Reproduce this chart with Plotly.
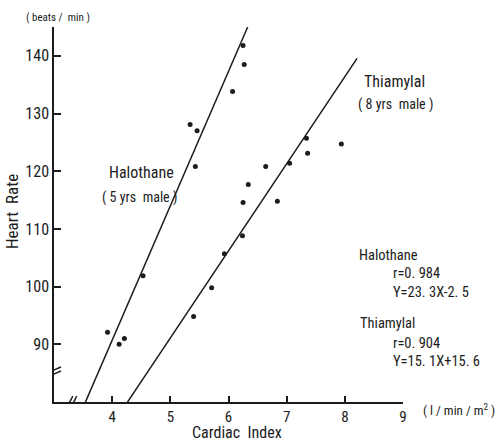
import plotly.graph_objects as go

# Cardiac index (l/min/m^2) vs heart rate (beats/min)
hal_ci = [6.25, 6.27, 6.07, 5.34, 5.46, 5.43, 4.53, 3.92, 4.12, 4.21]
hal_hr = [141.8, 138.5, 133.8, 128.1, 127.0, 120.8, 101.9, 92.1, 90.0, 91.0]

thi_ci = [5.40, 5.71, 5.93, 6.24, 6.25, 6.34, 6.84, 6.64, 7.05, 7.36, 7.34, 7.94]
thi_hr = [94.8, 99.8, 105.7, 108.8, 114.6, 117.7, 114.8, 120.8, 121.4, 123.1, 125.7, 124.7]

# Regression results
hal_r, hal_slope, hal_icpt = 0.984, 23.3, -2.5
thi_r, thi_slope, thi_icpt = 0.904, 15.1, 15.6

# Extent of each fitted line along the cardiac index axis
hal_line_ci = [3.54, 6.33]
thi_line_ci = [4.26, 8.21]

x_ticks = [4, 5, 6, 7, 8, 9]
y_ticks = [90, 100, 110, 120, 130, 140]

FONT = "Roboto Condensed, Arial Narrow, Roboto, sans-serif"
INK = "#1c1c1c"

W, H = 504, 442
ML, MR, MT, MB = 54, 101, 27, 40


def fit(xs, slope, icpt):
    return [slope * x + icpt for x in xs]


def fmt_num(v):
    return f"{v:.1f}".replace(".", ". ")


def eq_text(slope, icpt):
    sign = "+" if icpt >= 0 else "-"
    return f"Y={fmt_num(slope)}X{sign}{fmt_num(abs(icpt))}"


def r_text(r):
    return "r=" + f"{r:.3f}".replace(".", ". ")


fig = go.Figure()

for xs, ys in [(hal_ci, hal_hr), (thi_ci, thi_hr)]:
    fig.add_trace(go.Scatter(x=xs, y=ys, mode="markers",
                             marker=dict(size=5, color=INK), showlegend=False))

for xs, slope, icpt in [(hal_line_ci, hal_slope, hal_icpt),
                        (thi_line_ci, thi_slope, thi_icpt)]:
    fig.add_trace(go.Scatter(x=xs, y=fit(xs, slope, icpt), mode="lines",
                             line=dict(color=INK, width=1.5), showlegend=False))

fig.update_layout(
    width=W, height=H,
    margin=dict(l=ML, r=MR, t=MT, b=MB),
    paper_bgcolor="white", plot_bgcolor="white",
    font=dict(family=FONT, color=INK, size=16),
    xaxis=dict(range=[3, 9], tickvals=x_ticks, ticks="inside", ticklen=6,
               tickwidth=1.5, tickcolor=INK, showline=True, linecolor=INK,
               linewidth=1.5, showgrid=False, zeroline=False,
               tickfont=dict(size=15)),
    yaxis=dict(range=[80, 145], tickvals=y_ticks, ticks="inside", ticklen=7,
               tickwidth=1.5, tickcolor=INK, showline=True, linecolor=INK,
               linewidth=1.5, showgrid=False, zeroline=False,
               tickfont=dict(size=16)),
)

# Axis break marks
for dx in (-4, 0):
    fig.add_shape(type="line", xref="x", yref="y", xsizemode="pixel",
                  ysizemode="pixel", xanchor=3.34, yanchor=80,
                  x0=dx - 3, y0=-6, x1=dx + 3, y1=6,
                  line=dict(color=INK, width=1.5))
for dy in (-2, 2):
    fig.add_shape(type="line", xref="x", yref="y", xsizemode="pixel",
                  ysizemode="pixel", xanchor=3, yanchor=85.2,
                  x0=-7, y0=dy - 3, x1=7, y1=dy + 3,
                  line=dict(color=INK, width=1.5))

# Text placed in page pixels, converted to the plot-area paper frame
PW, PH = W - ML - MR, H - MT - MB
ann = []


def txt(x, y, s, size=15, xanchor="center", **kw):
    ann.append(dict(x=(x - ML) / PW, y=(H - MB - y) / PH, text=s,
                    xref="paper", yref="paper", showarrow=False,
                    xanchor=xanchor, yanchor="middle",
                    font=dict(size=size, family=FONT, color=INK), **kw))


txt(58, 17, "( beats /  min )", size=11)
txt(12, 212, "Heart  Rate", size=17, textangle=-90)
txt(237, 432, "Cardiac  Index", size=16)
txt(421, 410, "( l / min / m<sup>2</sup> )", size=13, xanchor="left")

txt(141, 172, "Halothane", size=16)
txt(139, 197, "( 5 yrs  male )", size=14)
txt(362, 81, "Thiamylal", size=16, xanchor="left")
txt(356, 104, "( 8 yrs  male )", size=14, xanchor="left")

txt(357, 255, "Halothane", size=14.5, xanchor="left")
txt(391, 273, r_text(hal_r), size=14.5, xanchor="left")
txt(391, 292, eq_text(hal_slope, hal_icpt), size=14.5, xanchor="left")
txt(358, 323, "Thiamylal", size=14.5, xanchor="left")
txt(391, 343, r_text(thi_r), size=14.5, xanchor="left")
txt(391, 361, eq_text(thi_slope, thi_icpt), size=14.5, xanchor="left")

fig.update_layout(annotations=ann)
fig.write_html("out.html")
